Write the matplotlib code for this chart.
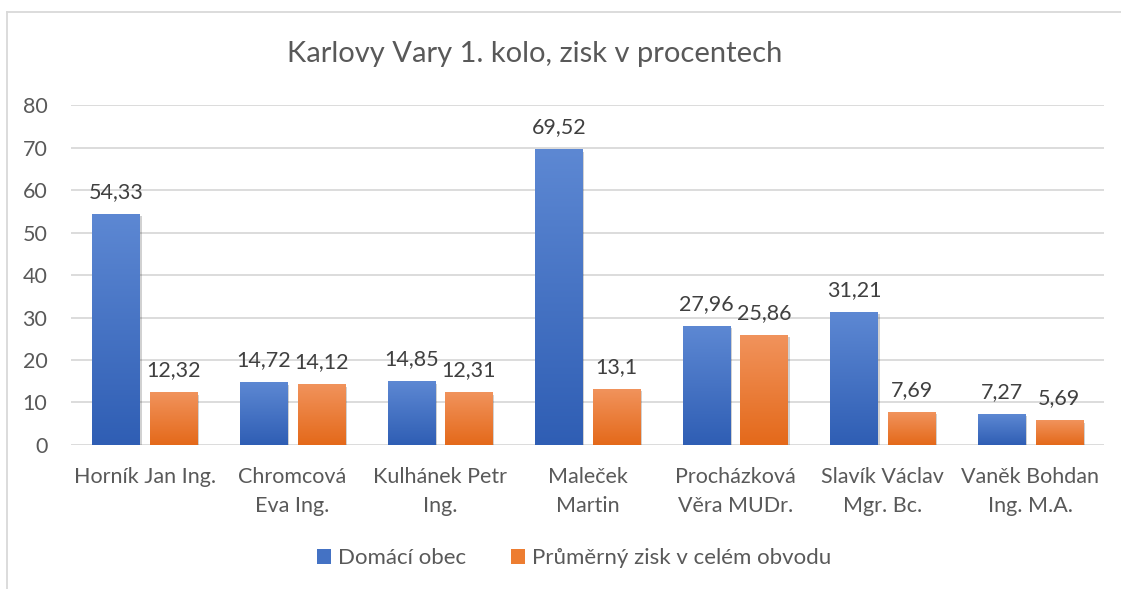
import numpy as np
import matplotlib
matplotlib.use("Agg")
import matplotlib.pyplot as plt
from matplotlib.colors import LinearSegmentedColormap
from matplotlib.lines import Line2D
from matplotlib.patches import Rectangle
import matplotlib.patheffects as pe

plt.rcParams['font.family'] = ['Lato', 'DejaVu Sans']

candidates = ["Horník Jan Ing.", "Chromcová\nEva Ing.", "Kulhánek Petr\nIng.",
              "Maleček\nMartin", "Procházková\nVěra MUDr.", "Slavík Václav\nMgr. Bc.",
              "Vaněk Bohdan\nIng. M.A."]
domaci_obec = [54.33, 14.72, 14.85, 69.52, 27.96, 31.21, 7.27]
prumerny_zisk = [12.32, 14.12, 12.31, 13.1, 25.86, 7.69, 5.69]
series_names = ["Domácí obec", "Průměrný zisk v celém obvodu"]
title = "Karlovy Vary 1. kolo, zisk v procentech"

blue_cmap = LinearSegmentedColormap.from_list("b", ["#2f5eb4", "#5d88d3"])
orange_cmap = LinearSegmentedColormap.from_list("o", ["#e4691a", "#f1935c"])

fig = plt.figure(figsize=(11.21, 5.89), dpi=100)
ax = fig.add_axes([0.0633, 0.2445, 0.9217, 0.5772])

x = np.arange(len(candidates))
width = 0.32
offset = 0.195
grad = np.linspace(0, 1, 256).reshape(-1, 1)

for vals, sign, cmap in [(domaci_obec, -1, blue_cmap), (prumerny_zisk, 1, orange_cmap)]:
    bars = ax.bar(x + sign * offset, vals, width, color='none', zorder=3)
    for b, v in zip(bars, vals):
        x0, w, h = b.get_x(), b.get_width(), b.get_height()
        shadow = Rectangle((x0, 0), w, h, facecolor='white', edgecolor='none', zorder=2.5,
                           path_effects=[pe.SimplePatchShadow(offset=(1.5, -1.5), shadow_rgbFace='#000000', alpha=0.18)])
        ax.add_patch(shadow)
        ax.imshow(grad, extent=[x0, x0 + w, 0, h], origin='lower', cmap=cmap,
                  aspect='auto', zorder=3, interpolation='bilinear')
        ax.annotate(f"{v:g}".replace('.', ','), (x0 + w / 2, h), xytext=(0, 9),
                    textcoords='offset points', ha='center', va='bottom',
                    fontsize=15.5, color='#404040', zorder=4)

ax.set_xlim(-0.5, len(candidates) - 0.5)
ax.set_ylim(0, 80)
ax.set_yticks(range(0, 81, 10))
ax.set_xticks(x)
ax.set_xticklabels(candidates, fontsize=15.5, color='#595959', linespacing=1.55)
ax.tick_params(axis='y', labelsize=15.5, labelcolor='#595959', length=0, pad=17)
ax.tick_params(axis='x', length=0, pad=16)
ax.grid(axis='y', color='#d9d9d9', linewidth=1.3, zorder=0)
ax.set_axisbelow(True)
for s in ax.spines.values():
    s.set_visible(False)

fig.text(0.477, 0.909, title, ha='center', va='center', fontsize=21, color='#595959')

handles = [Rectangle((0, 0), 1, 1, facecolor='#4472c4'), Rectangle((0, 0), 1, 1, facecolor='#ed7d31')]
fig.legend(handles, series_names, loc='center', bbox_to_anchor=(0.512, 0.052), ncol=2,
           frameon=False, fontsize=16, labelcolor='#595959', handlelength=0.65,
           handleheight=0.65, handletextpad=0.3, columnspacing=2.0)

fig.add_artist(Line2D([7 / 1121, 7 / 1121], [0, 1 - 12 / 589], color='#d9d9d9', linewidth=1.3))
fig.add_artist(Line2D([7 / 1121, 1], [1 - 12 / 589, 1 - 12 / 589], color='#d9d9d9', linewidth=1.3))

fig.savefig("out.png", dpi=100)
